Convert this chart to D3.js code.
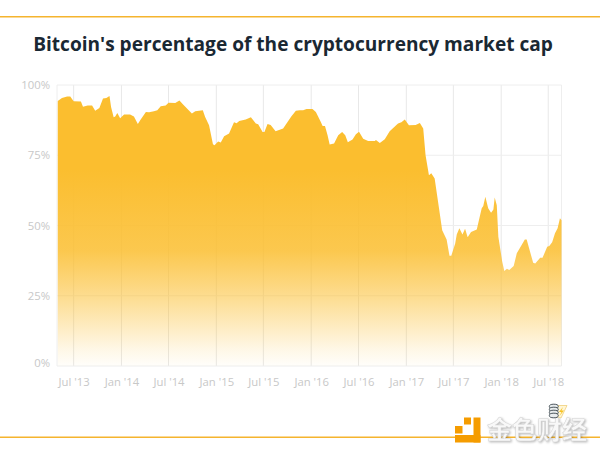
<!DOCTYPE html>
<html lang="en">

<head>
	<meta charset="UTF-8">
	<title>Bitcoin dominance</title>
	<script src="https://cdn.jsdelivr.net/npm/d3@7"></script>
</head>

<style>
html, body {
	margin: 0;
	padding: 0;
	background: #fff;
}
svg {
	display: block;
	font-family: "Open Sans", sans-serif;
}
</style>

<body>
	<svg id="chart" width="600" height="455"></svg>
</body>

<script>
	let width = 600, height = 455
	let left = 57, right = 561.5, top_ = 85, bottom = 366

	// btc share of total market cap
	let raw = [
		['2013-05-01', 94.3], ['2013-05-17', 95.4], ['2013-06-06', 95.9], ['2013-06-18', 95.9], ['2013-07-01', 94.2],
		['2013-07-29', 94.1], ['2013-08-06', 92.3], ['2013-08-24', 92.7], ['2013-09-10', 92.7], ['2013-09-22', 90.8],
		['2013-10-08', 91.8], ['2013-10-22', 95.2], ['2013-11-04', 95.4], ['2013-11-16', 96.1], ['2013-11-22', 92.2],
		['2013-12-02', 88.5], ['2013-12-08', 88.8], ['2013-12-16', 90.0], ['2013-12-27', 88.2], ['2014-01-11', 89.5],
		['2014-02-03', 89.5], ['2014-02-18', 88.8], ['2014-03-05', 86.1], ['2014-03-16', 87.7], ['2014-04-05', 90.4],
		['2014-04-17', 90.3], ['2014-05-06', 90.7], ['2014-05-19', 91.0], ['2014-06-01', 92.4], ['2014-06-20', 92.7],
		['2014-07-01', 93.7], ['2014-07-27', 93.6], ['2014-08-12', 94.5], ['2014-08-28', 92.9], ['2014-09-29', 89.9],
		['2014-10-12', 90.7], ['2014-11-10', 91.0], ['2014-11-19', 88.6], ['2014-12-04', 85.7], ['2014-12-19', 78.9],
		['2014-12-25', 78.6], ['2015-01-08', 79.9], ['2015-01-18', 79.5], ['2015-01-31', 81.8], ['2015-02-19', 82.7],
		['2015-03-10', 86.7], ['2015-03-20', 86.4], ['2015-03-30', 87.2], ['2015-04-24', 87.7], ['2015-05-14', 88.5],
		['2015-06-02', 86.3], ['2015-06-11', 86.0], ['2015-06-28', 83.3], ['2015-07-05', 83.3], ['2015-07-17', 86.1],
		['2015-07-29', 85.8], ['2015-08-17', 83.5], ['2015-09-15', 84.5], ['2015-10-17', 88.9], ['2015-11-03', 90.8],
		['2015-11-18', 91.0], ['2015-12-01', 91.0], ['2015-12-14', 91.5], ['2016-01-06', 91.5], ['2016-01-19', 90.4],
		['2016-02-07', 86.8], ['2016-02-14', 85.4], ['2016-02-23', 85.4], ['2016-03-04', 82.1], ['2016-03-12', 78.8],
		['2016-03-29', 79.2], ['2016-04-14', 82.1], ['2016-04-29', 83.3], ['2016-05-11', 82.1], ['2016-05-21', 79.6],
		['2016-06-08', 80.6], ['2016-06-21', 82.5], ['2016-07-03', 83.4], ['2016-07-19', 80.9], ['2016-08-07', 80.1],
		['2016-09-02', 80.1], ['2016-09-06', 80.4], ['2016-09-21', 79.4], ['2016-10-10', 80.7], ['2016-10-29', 83.5],
		['2016-11-30', 86.3], ['2016-12-13', 86.7], ['2016-12-26', 87.7], ['2017-01-11', 85.7], ['2017-02-06', 85.8],
		['2017-02-22', 86.5], ['2017-03-07', 84.5], ['2017-03-16', 75.0], ['2017-03-29', 67.9], ['2017-04-07', 68.6],
		['2017-04-20', 66.7], ['2017-05-06', 56.6], ['2017-05-19', 48.3], ['2017-06-05', 45.0], ['2017-06-16', 39.2],
		['2017-06-23', 39.2], ['2017-07-08', 43.6], ['2017-07-14', 46.8], ['2017-07-24', 49.0], ['2017-08-05', 46.8],
		['2017-08-15', 48.8], ['2017-08-25', 45.8], ['2017-09-07', 47.7], ['2017-09-29', 48.6], ['2017-10-18', 56.1],
		['2017-10-24', 56.9], ['2017-11-01', 60.2], ['2017-11-12', 56.1], ['2017-11-23', 54.5], ['2017-12-02', 55.7],
		['2017-12-07', 60.0], ['2017-12-15', 57.2], ['2017-12-21', 46.0], ['2018-01-05', 37.1], ['2018-01-13', 33.8],
		['2018-01-23', 34.6], ['2018-02-01', 34.2], ['2018-02-18', 35.6], ['2018-03-02', 40.1], ['2018-04-02', 45.0],
		['2018-04-09', 45.0], ['2018-05-04', 36.7], ['2018-05-12', 36.5], ['2018-05-31', 38.5], ['2018-06-09', 38.5],
		['2018-06-27', 42.4], ['2018-07-05', 42.7], ['2018-07-16', 44.0], ['2018-07-27', 47.2], ['2018-08-06', 49.0],
		['2018-08-15', 52.6], ['2018-08-21', 51.9],
	]

	let parse = d3.utcParse('%Y-%m-%d')
	let data = raw.map((d) => ({ date: parse(d[0]), pct: d[1] }))

	let x = d3.scaleUtc()
		.domain([parse('2013-04-28'), parse('2018-08-21')])
		.range([left, right])
	let y = d3.scaleLinear()
		.domain([0, 100])
		.range([bottom, top_])

	let svg = d3.select('#chart')

	// fade runs on the value axis, not on the shape box
	let grad = svg.append('defs').append('linearGradient')
		.attr('id', 'fade')
		.attr('gradientUnits', 'userSpaceOnUse')
		.attr('x1', 0).attr('x2', 0)
		.attr('y1', y(100)).attr('y2', y(0))
	let stops = [[0, 1], [0.3, 1], [0.59, 0.85], [0.76, 0.52], [0.94, 0.12], [1, 0.02]]
	stops.forEach((s) => {
		grad.append('stop')
			.attr('offset', s[0])
			.attr('stop-color', '#fbbe2f')
			.attr('stop-opacity', s[1])
	})

	// top and bottom rules
	svg.append('rect').attr('x', 0).attr('y', 16).attr('width', width).attr('height', 1.5).attr('fill', '#f5b42e')
	svg.append('rect').attr('x', 0).attr('y', 436.5).attr('width', width).attr('height', 1.5).attr('fill', '#f5b42e')

	svg.append('text')
		.attr('x', 293)
		.attr('y', 51)
		.attr('text-anchor', 'middle')
		.attr('font-size', 19.1)
		.attr('font-weight', 700)
		.attr('fill', '#1a2833')
		.text("Bitcoin's percentage of the cryptocurrency market cap")

	// grid
	let grid = svg.append('g')
	let xTicks = d3.utcMonth.every(6).range(parse('2013-07-01'), parse('2018-08-01'))
	grid.selectAll('line.v')
		.data(xTicks)
		.join('line')
		.attr('class', 'v')
		.attr('x1', (d) => x(d)).attr('x2', (d) => x(d))
		.attr('y1', top_).attr('y2', bottom)
		.attr('stroke', '#e8e8e8')
	grid.selectAll('line.h')
		.data([0, 25, 50, 75, 100])
		.join('line')
		.attr('class', 'h')
		.attr('x1', left).attr('x2', right)
		.attr('y1', (d) => y(d)).attr('y2', (d) => y(d))
		.attr('stroke', '#eeeeee')
	grid.append('line')
		.attr('x1', right).attr('x2', right)
		.attr('y1', top_).attr('y2', bottom)
		.attr('stroke', '#eeeeee')
	grid.append('line')
		.attr('x1', left).attr('x2', left)
		.attr('y1', top_).attr('y2', bottom)
		.attr('stroke', '#eeeeee')

	let area = d3.area()
		.x((d) => x(d.date))
		.y0(bottom)
		.y1((d) => y(d.pct))

	svg.append('path')
		.datum(data)
		.attr('d', area)
		.attr('fill', 'url(#fade)')

	// axes, only the labels stay
	let fmt = d3.utcFormat("%b '%y")
	let xAxis = svg.append('g')
		.attr('transform', `translate(0,${bottom})`)
		.call(d3.axisBottom(x).tickValues(xTicks).tickFormat(fmt).tickSize(0).tickPadding(12))
	let yAxis = svg.append('g')
		.attr('transform', `translate(${left},0)`)
		.call(d3.axisLeft(y).tickValues([0, 25, 50, 75, 100]).tickFormat((d) => d + '%').tickSize(0).tickPadding(7))
	xAxis.select('.domain').remove()
	yAxis.select('.domain').remove()
	xAxis.selectAll('text').attr('font-family', '"Open Sans"').attr('font-size', 11.3).attr('fill', '#c8c8c8')
	yAxis.selectAll('text').attr('font-family', '"Open Sans"').attr('font-size', 11.3).attr('fill', '#c8c8c8')
	yAxis.selectAll('.tick').filter((d) => d === 0).select('text').attr('dy', '0.05em')

	// logo
	let logo = svg.append('g').attr('fill', '#f59c00')
	logo.append('rect').attr('x', 464).attr('y', 417.5).attr('width', 7).attr('height', 7)
	logo.append('rect').attr('x', 455).attr('y', 426).attr('width', 7.5).attr('height', 7.5)
	logo.append('rect').attr('x', 473.5).attr('y', 417.5).attr('width', 7).attr('height', 25)
	logo.append('rect').attr('x', 455).attr('y', 435).attr('width', 25.5).attr('height', 7.5)

	svg.append('text')
		.attr('x', 487)
		.attr('y', 439)
		.attr('font-family', '"Noto Sans CJK SC"')
		.attr('font-size', 25)
		.attr('font-weight', 700)
		.attr('fill', '#f8f8f8')
		.attr('stroke', '#d4d4d4')
		.attr('stroke-width', 0.5)
		.attr('style', 'filter: drop-shadow(1px 1px 1px rgba(0,0,0,.28))')
		.text('金色财经')

	// coin stack with the little flag next to it
	let coins = svg.append('g')
	coins.append('path')
		.attr('d', 'M556 405.5 L567 405.5 L561 418 L556 416 Z')
		.attr('fill', '#fff6d6')
		.attr('stroke', '#f0cf7a')
		.attr('stroke-width', 0.8)
	coins.append('path')
		.attr('d', 'M563 407 L559 412 L561.5 412 L559.5 416 L564 410.5 L561.5 410.5 Z')
		.attr('fill', '#f7c325')
	d3.range(4).forEach((i) => {
		coins.append('ellipse')
			.attr('cx', 553.8).attr('cy', 406.5 + i * 3)
			.attr('rx', 4.5).attr('ry', 2.3)
			.attr('fill', '#e8ecee')
			.attr('stroke', '#39444c')
			.attr('stroke-width', 0.9)
	})
</script>

</html>
